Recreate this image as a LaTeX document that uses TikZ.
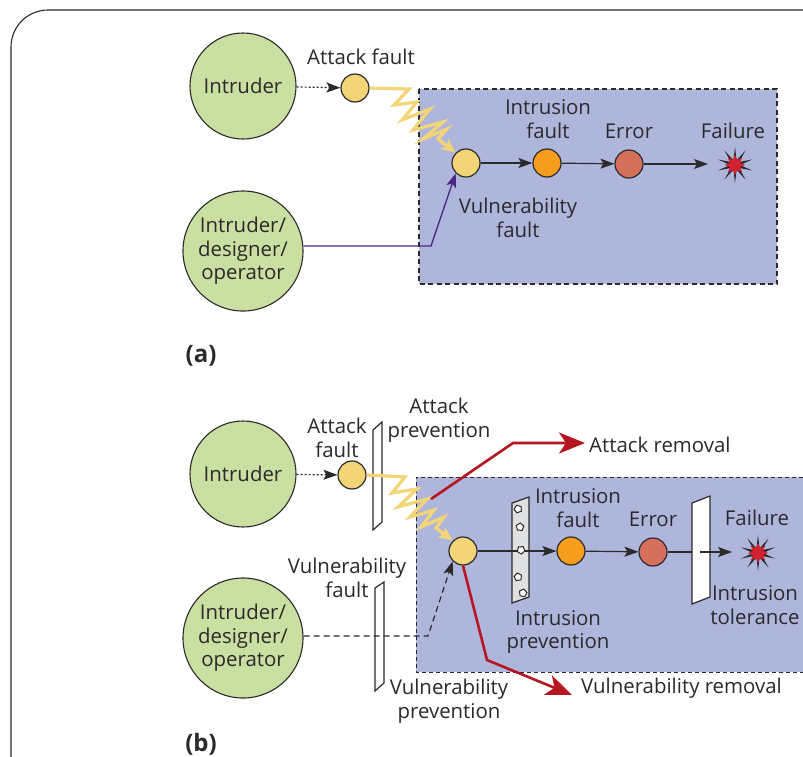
\documentclass[tikz,border=0pt]{standalone}
\usepackage{fontspec}
\setmainfont{Open Sans}
\usetikzlibrary{arrows.meta,shapes.geometric}
\definecolor{ink}{HTML}{2B2A2B}
\definecolor{panelblue}{HTML}{AEB6DC}
\definecolor{actor}{HTML}{C9E0A2}
\definecolor{faulty}{HTML}{F3D577}
\definecolor{intr}{HTML}{F79D1E}
\definecolor{errc}{HTML}{D4705C}
\definecolor{purp}{HTML}{4B2683}
\definecolor{redl}{HTML}{B5161F}
\definecolor{redstar}{HTML}{D2202E}
\definecolor{plate}{HTML}{DFE0E2}
\tikzset{
  actorc/.style={circle,draw=ink,line width=1.1pt,fill=actor,minimum size=#1,inner sep=0pt,align=center,text=ink},
  dotc/.style={circle,draw=ink,line width=1.2pt,fill=#1,minimum size=28pt,inner sep=0pt},
  lab/.style={text=ink,align=center,inner sep=0pt,font=\fontsize{20.4}{23.5}\selectfont},
  boldlab/.style={text=ink,inner sep=0pt,font=\fontsize{24}{26}\selectfont\bfseries},
  panel/.style={fill=panelblue,draw=none},
  panelline/.style={draw=ink,line width=1.1pt,dash pattern=on 5pt off 3.5pt},
  panellineb/.style={draw=ink,line width=0.8pt,dash pattern=on 4pt off 3pt},
  wire/.style={draw=ink,line width=1.2pt,-{Stealth[length=14pt,width=10pt,inset=3pt]}},
  plainwire/.style={draw=ink,line width=1.2pt},
  dotted wire/.style={draw=ink,line width=1.2pt,dash pattern=on 2pt off 2pt,-{Stealth[length=14pt,width=10pt,inset=3pt]}},
  dashed wire/.style={draw=ink,line width=1.2pt,dash pattern=on 6pt off 4pt,-{Stealth[length=14pt,width=10pt,inset=3pt]}},
  zig/.style={draw=faulty,line width=3.2pt,line join=miter,miter limit=10,-{Stealth[length=14pt,width=12pt,inset=3pt]}},
  redarrow/.style={draw=redl,line width=2.6pt,-{Stealth[length=26pt,width=21pt,inset=7pt]}},
  whiteplate/.style={draw=ink,line width=1.2pt,fill=white},
  grayplate/.style={draw=ink,line width=1.2pt,fill=plate},
  hole/.style={regular polygon,regular polygon sides=5,draw=ink,line width=1pt,fill=white,minimum size=8pt,inner sep=0pt},
  burstb/.style={star,star points=10,star point ratio=3.6,minimum size=36pt,fill=ink,draw=none,inner sep=0pt},
  burstr/.style={star,star points=8,star point ratio=1.8,minimum size=20pt,fill=redstar,draw=none,inner sep=0pt},
}
\begin{document}
\begin{tikzpicture}[x=1pt,y=-1pt]
\useasboundingbox (0,0) rectangle (803,756);
\fill[white] (0,0) rectangle (803,756);
% outer frame
\draw[ink,line width=1.1pt,rounded corners=37pt] (11,800) -- (11,10) -- (850,10);

% ---------- (a)
\fill[panel] (419,89) rectangle (777,284);
\draw[panelline] (419,89) rectangle (777,284);
\node[actorc=106pt] (i1) at (243,86) {};
\node[lab] at (243,86) {Intruder};
\node[actorc=120pt] (d1) at (243,251) {};
\node[lab] at (243,251) {Intruder/\\designer/\\operator};
\node[dotc=faulty] (af1) at (355,88) {};
\node[dotc=faulty] (vf1) at (466,163) {};
\node[dotc=intr] (if1) at (547,163) {};
\node[dotc=errc] (er1) at (629,164) {};
\node[burstb] (st1) at (735,165) {};
\node[burstr] at (735,165) {};
\coordinate (p1) at (431,246);
\coordinate (t1) at (708,164);
\draw[dotted wire] (i1) -- (af1);
\draw[zig] (af1.east) -- (409,89) -- (394,105) -- (417,102) -- (402,120) -- (430,109) -- (413,130) -- (443,122) -- (423,139) -- (447,129) -- (438,139) -- (vf1.north west);
\draw[wire] (vf1) -- (if1);
\draw[wire] (if1) -- (er1);
\draw[wire] (er1) -- (t1);
\draw[draw=purp,line width=1.3pt,-{Stealth[length=14pt,width=10pt,inset=3pt]}] (d1.east |- p1) -- (p1) -- (vf1.south west);
\node[lab] at (361,57) {Attack fault};
\node[lab] at (548,119) {Intrusion\\fault};
\node[lab] at (629,131) {Error};
\node[lab] at (733,131) {Failure};
\node[lab] at (518,218) {Vulnerability\\fault};
\node[boldlab] at (201,356) {(a)};

% ---------- (b)
\fill[panel] (416,477) rectangle (803,672);
\draw[panellineb] (810,477) -- (416,477) -- (416,672) -- (810,672);
\node[actorc=106pt] (i2) at (243,474) {};
\node[lab] at (243,474) {Intruder};
\node[actorc=120pt] (d2) at (243,638) {};
\node[lab] at (243,638) {Intruder/\\designer/\\operator};
\node[dotc=faulty] (af2) at (352,475) {};
\node[dotc=faulty] (vf2) at (463,551) {};
\node[dotc=intr] (if2) at (571,551) {};
\node[dotc=errc] (er2) at (653,552) {};
\node[burstb] (st2) at (758,553) {};
\node[burstr] at (758,553) {};
% plates
\draw[whiteplate] (373,430) -- (382,422) -- (382,522) -- (373,530) -- cycle;
\draw[whiteplate] (375,588) -- (384,582) -- (384,683) -- (375,691) -- cycle;
\coordinate (tol) at (692,552);
\coordinate (tolout) at (700,552);
\coordinate (t2) at (732,552);
\coordinate (p2) at (428,636);
\coordinate (r1) at (431,499);
\coordinate (r2) at (513,443);
\coordinate (r3) at (585,443);
\coordinate (v2) at (487,660);
\coordinate (v3) at (572,695);
\draw[plainwire] (vf2) -- (512,551);
\draw[grayplate] (512,503) -- (529,497) -- (529,597) -- (512,603) -- cycle;
\draw[whiteplate] (692,503) -- (710,496) -- (710,597) -- (692,604) -- cycle;
\draw[wire] (512,551) -- (if2);
\node[hole,rotate=20] (h1) at (518,509) {};
\node[hole,rotate=70] (h2) at (520,527) {};
\node[hole,rotate=40] (h3) at (521,550) {};
\node[hole,rotate=10] (h4) at (518,577) {};
\node[hole,rotate=60] (h5) at (523,593) {};
\draw[wire] (if2) -- (er2);
\draw[plainwire] (er2) -- (tol);
\draw[wire] (tolout) -- (t2);
\draw[dotted wire] (i2) -- (af2);
\draw[zig] (af2.east) -- (405,477) -- (392,493) -- (417,489) -- (398,507) -- (427,499) -- (410,517) -- (434,510) -- (421,527) -- (444,517) -- (436,528) -- (vf2.north west);
\draw[dashed wire] (d2.east |- p2) -- (p2) -- (vf2.south west);
\draw[redarrow] (r1) -- (r2) -- (r3);
\draw[redarrow] (vf2.south) -- (v2) -- (v3);
\node[lab,anchor=west] at (589,445) {Attack removal};
\node[lab,anchor=west] at (581,688) {Vulnerability removal};
\node[lab] at (337,438) {Attack\\fault};
\node[lab] at (439,420) {Attack\\prevention};
\node[lab] at (578,508) {Intrusion\\fault};
\node[lab] at (653,519) {Error};
\node[lab] at (757,518) {Failure};
\node[lab] at (347,578) {Vulnerability\\fault};
\node[lab] at (558,632) {Intrusion\\prevention};
\node[lab] at (755,605) {Intrusion\\tolerance};
\node[lab] at (449,701) {Vulnerability\\prevention};
\node[boldlab] at (201,744) {(b)};
\end{tikzpicture}
\end{document}
